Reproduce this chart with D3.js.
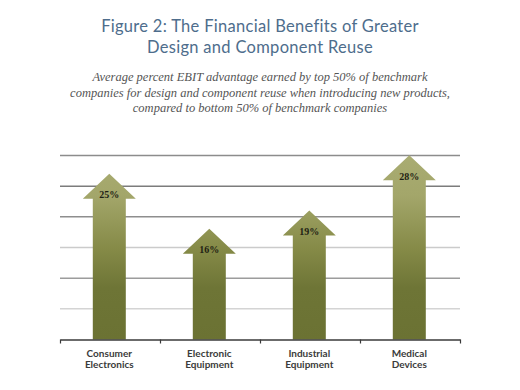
<!DOCTYPE html>
<html>
<head>
<meta charset="utf-8">
<script src="https://cdn.jsdelivr.net/npm/d3@7"></script>
<style>
  html, body { margin: 0; padding: 0; background: #fff; }
  svg { display: block; }
</style>
</head>
<body>
<svg id="chart" width="520" height="390"></svg>
<script>
// ---- data ----
const titleLines = ["Figure 2: The Financial Benefits of Greater", "Design and Component Reuse"];
const subtitleLines = [
  "Average percent EBIT advantage earned by top 50% of benchmark",
  "companies for design and component reuse when introducing new products,",
  "compared to bottom 50% of benchmark companies"
];
const categories = ["Consumer Electronics", "Electronic Equipment", "Industrial Equipment", "Medical Devices"];
const values = [25, 16, 19, 28];
const valueLabels = ["25%", "16%", "19%", "28%"];
const gridTicks = [5, 10, 15, 20, 25, 30];

// ---- styles ----
const gridColors = { 5: "#d4d4d4", 10: "#9c9c9c", 15: "#cbcbcb", 20: "#8e8e8e", 25: "#7c7c7c", 30: "#8c8c8c" };

const svg = d3.select("#chart");
svg.append("rect").attr("width", 520).attr("height", 390).attr("fill", "#fff");

const margin = { left: 60, right: 60, top: 155.5, bottom: 50.5 };
const x = d3.scaleBand().domain(categories).range([margin.left, 520 - margin.right]).padding(0);
const y = d3.scaleLinear().domain([0, 30]).range([390 - margin.bottom, margin.top]);

// title
svg.append("g").selectAll("text").data(titleLines).join("text")
  .attr("x", 260).attr("y", (d, i) => 31.5 + i * 21.7)
  .attr("text-anchor", "middle")
  .attr("font-family", "Lato, 'Open Sans', sans-serif")
  .attr("font-size", 16.5)
  .attr("letter-spacing", 0.3)
  .attr("fill", "#4e6d8c")
  .text(d => d);

// subtitle
svg.append("g").selectAll("text").data(subtitleLines).join("text")
  .attr("x", 260).attr("y", (d, i) => 81 + i * 15.5)
  .attr("text-anchor", "middle")
  .attr("font-family", "'Liberation Serif', 'DejaVu Serif', serif")
  .attr("font-style", "italic")
  .attr("font-size", 12.5)
  .attr("fill", "#555")
  .text(d => d);

// gradient
const defs = svg.append("defs");
const grad = defs.append("linearGradient").attr("id", "olive")
  .attr("gradientUnits", "userSpaceOnUse")
  .attr("x1", 0).attr("x2", 0).attr("y1", y(30)).attr("y2", y(0));
[[0, "#a9ac72"], [0.22, "#a3a66a"], [0.5, "#868b48"], [0.72, "#6e7536"], [1, "#6b7233"]]
  .forEach(([o, c]) => grad.append("stop").attr("offset", o).attr("stop-color", c));

// gridlines
svg.append("g").selectAll("line").data(gridTicks).join("line")
  .attr("x1", margin.left).attr("x2", 520 - margin.right)
  .attr("y1", d => y(d)).attr("y2", d => y(d))
  .attr("stroke", d => gridColors[d])
  .attr("stroke-width", 1.5);

// arrows
const headHalf = 26.5, shaftHalf = 16.5, headHalfH = 12.5;
function arrowPath(cat, v) {
  const cx = x(cat) + x.bandwidth() / 2 - 0.7;
  const yv = y(v), y0 = y(0);
  const p = d3.path();
  p.moveTo(cx - shaftHalf, y0);
  p.lineTo(cx - shaftHalf, yv + headHalfH);
  p.lineTo(cx - headHalf, yv + headHalfH);
  p.lineTo(cx, yv - headHalfH);
  p.lineTo(cx + headHalf, yv + headHalfH);
  p.lineTo(cx + shaftHalf, yv + headHalfH);
  p.lineTo(cx + shaftHalf, y0);
  p.closePath();
  return p.toString();
}
svg.append("g").selectAll("path").data(categories).join("path")
  .attr("d", (d, i) => arrowPath(d, values[i]))
  .attr("fill", "url(#olive)");

// value labels
svg.append("g").selectAll("text").data(categories).join("text")
  .attr("x", d => x(d) + x.bandwidth() / 2 - 0.7)
  .attr("y", (d, i) => y(values[i]) + 12)
  .attr("text-anchor", "middle")
  .attr("font-family", "'Liberation Serif', serif")
  .attr("font-weight", "bold")
  .attr("font-size", 10)
  .attr("fill", "#1e1e14")
  .text((d, i) => valueLabels[i]);

// axis
const xb = d3.scaleLinear().domain([0, categories.length]).range(x.range());
const axis = svg.append("g").attr("transform", `translate(0,${y(0)})`)
  .call(d3.axisBottom(xb).tickValues(d3.range(0, categories.length + 1)).tickSize(4).tickSizeOuter(0).tickFormat(""));
axis.select(".domain").attr("stroke", "#3a3a3a").attr("stroke-width", 1.5);
axis.selectAll(".tick line").attr("stroke", "#3a3a3a").attr("stroke-width", 1.2);

// category labels
const lab = svg.append("g").selectAll("text").data(categories).join("text")
  .attr("x", d => x(d) + x.bandwidth() / 2 - 0.7)
  .attr("y", 357)
  .attr("text-anchor", "middle")
  .attr("font-family", "Lato, sans-serif")
  .attr("font-weight", "bold")
  .attr("font-size", 10)
  .attr("fill", "#3b3b3b");
lab.each(function(d) {
  const parts = d.split(" ");
  d3.select(this).selectAll("tspan").data(parts).join("tspan")
    .attr("x", x(d) + x.bandwidth() / 2 - 0.7)
    .attr("dy", (p, i) => i === 0 ? 0 : 11.3)
    .text(p => p);
});
</script>
</body>
</html>
